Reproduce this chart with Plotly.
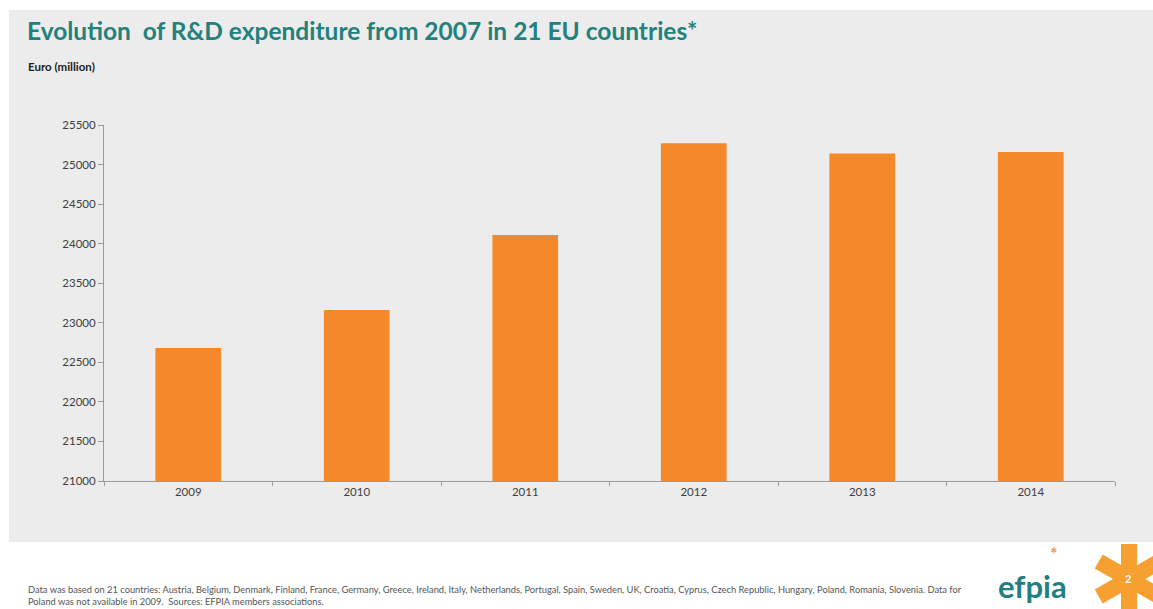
import plotly.graph_objects as go
import math

years = ["2009", "2010", "2011", "2012", "2013", "2014"]
rd_expenditure = [22680, 23160, 24110, 25270, 25140, 25160]
y_ticks = [21000, 21500, 22000, 22500, 23000, 23500, 24000, 24500, 25000, 25500]

W, H = 1153, 609
ML, MR, MT, MB = 104, 38, 125, 128
PW, PH = W - ML - MR, H - MT - MB

def px(x):
    return (x - ML) / PW

def py(y):
    return (H - MB - y) / PH

fig = go.Figure()
fig.add_trace(go.Bar(
    x=years, y=rd_expenditure,
    marker=dict(color="#F5882A", line=dict(width=0)),
    hoverinfo="x+y",
))

shapes = [
    dict(type="rect", xref="paper", yref="paper", x0=px(9), x1=px(1153), y0=py(542), y1=py(10),
         fillcolor="#ECECEC", line=dict(width=0), layer="below"),
]
# decorative big asterisk (logo)
cx, cy, arm, wd = 1129, 579, 35, 16
for ang in (90, 30, -30):
    a = math.radians(ang)
    dx, dy = arm * math.cos(a), arm * math.sin(a)
    shapes.append(dict(type="line", xref="paper", yref="paper",
                       x0=px(cx - dx), x1=px(cx + dx), y0=py(cy - dy), y1=py(cy + dy),
                       line=dict(color="#F7A032", width=wd), layer="above"))

annotations = [
    dict(text="<b>Evolution  of R&D expenditure from 2007 in 21 EU countries*</b>", xref="paper", yref="paper",
         x=px(25), y=py(31), xanchor="left", yanchor="middle", showarrow=False,
         font=dict(family="Lato", size=24.5, color="#23807C")),
    dict(text="<b>Euro (million)</b>", xref="paper", yref="paper",
         x=px(26), y=py(66), xanchor="left", yanchor="middle", showarrow=False,
         font=dict(family="Lato", size=11.5, color="#222222")),
    dict(text="Data was based on 21 countries: Austria, Belgium, Denmark, Finland, France, Germany, Greece, Ireland, Italy, Netherlands, Portugal, Spain, Sweden, UK, Croatia, Cyprus, Czech Republic, Hungary, Poland, Romania, Slovenia. Data for<br>Poland was not available in 2009.  Sources: EFPIA members associations.",
         xref="paper", yref="paper", x=px(26), y=py(595), xanchor="left", yanchor="middle", align="left",
         showarrow=False, font=dict(family="Lato", size=9.3, color="#555555")),
    dict(text="<b>efpia</b>", xref="paper", yref="paper", x=px(1032), y=py(586), xanchor="center", yanchor="middle",
         showarrow=False, font=dict(family="Lato", size=31, color="#1E7F84")),
    dict(text="<b>*</b>", xref="paper", yref="paper", x=px(1054), y=py(554), xanchor="center", yanchor="middle",
         showarrow=False, font=dict(family="Lato", size=18, color="#F7A032")),
    dict(text="<b>2</b>", xref="paper", yref="paper", x=px(1128), y=py(578), xanchor="center", yanchor="middle",
         showarrow=False, font=dict(family="Lato", size=11, color="#FFFFFF")),
]

fig.update_layout(
    width=W, height=H,
    margin=dict(l=ML, r=MR, t=MT, b=MB, pad=0),
    paper_bgcolor="#FFFFFF", plot_bgcolor="rgba(0,0,0,0)",
    bargap=0.61, showlegend=False,
    shapes=shapes, annotations=annotations,
    font=dict(family="Lato", size=11, color="#404040"),
)
fig.update_xaxes(
    type="category", showline=True, linecolor="#9A9A9A", linewidth=1,
    ticks="outside", tickson="boundaries", ticklen=4, tickcolor="#9A9A9A",
    showgrid=False, tickfont=dict(size=11.5, color="#404040"),
)
fig.update_yaxes(
    range=[21000, 25500], tickvals=y_ticks, ticktext=[str(v) for v in y_ticks],
    showline=True, linecolor="#9A9A9A", linewidth=1,
    ticks="outside", ticklen=5, tickcolor="#9A9A9A",
    showgrid=False, zeroline=False, tickfont=dict(size=11.5, color="#404040"),
)

fig.write_html("out.html")
